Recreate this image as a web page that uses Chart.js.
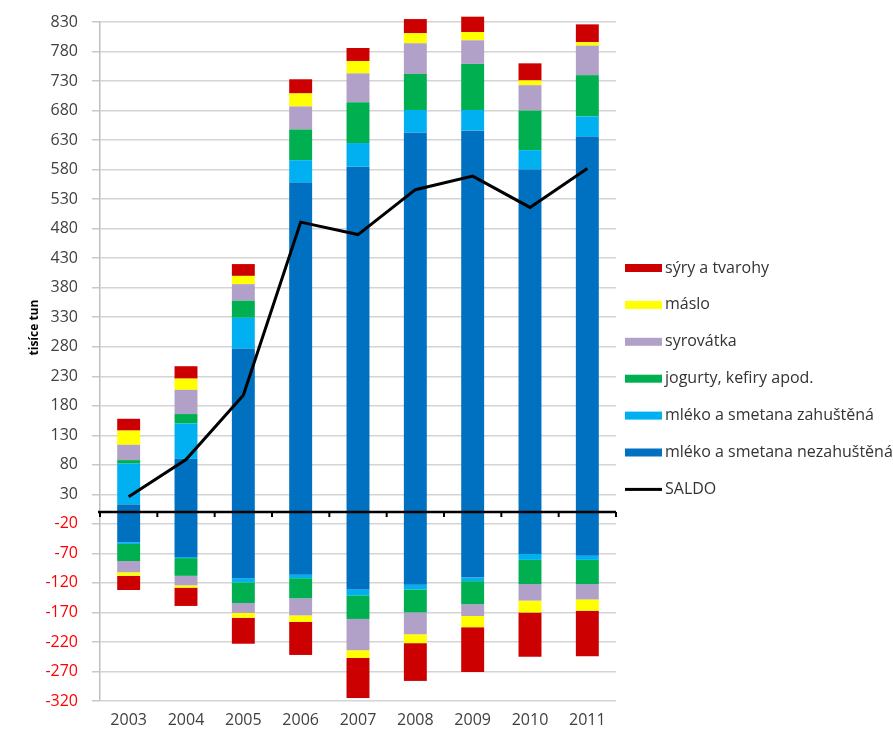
<!DOCTYPE html>
<html><head><meta charset="utf-8">
<script src="https://cdn.jsdelivr.net/npm/chart.js@4.4.1/dist/chart.umd.min.js"></script>
<style>html,body{margin:0;padding:0;background:#fff;overflow:hidden}#wrap{width:893px;height:734px;position:relative}</style>
</head><body><div id="wrap"><canvas id="c"></canvas></div>
<script>
// categories
const years = ['2003','2004','2005','2006','2007','2008','2009','2010','2011'];

// exports (positive, thousand tonnes)
const nezahusteneExp = [13, 90, 277, 558, 585, 643, 646, 580, 636];
const zahusteneExp   = [69, 60, 52, 38, 40, 38, 35, 33, 34];
const jogurtyExp     = [6, 16, 29, 52, 69, 61, 78, 67, 70];
const syrovatkaExp   = [26, 41, 28, 39, 49, 52, 40, 43, 50];
const masloExp       = [24, 19, 14, 22, 21, 17, 14, 8, 6];
const syryExp        = [20, 21, 20, 24, 22, 24, 26, 29, 30];

// imports (negative, thousand tonnes)
const nezahusteneImp = [-51, -76, -112, -106, -131, -123, -111, -71, -74];
const zahusteneImp   = [-3, -2, -7, -6, -10, -8, -6, -10, -7];
const jogurtyImp     = [-29, -30, -35, -34, -40, -39, -39, -41, -41];
const syrovatkaImp   = [-19, -16, -17, -29, -53, -37, -20, -28, -26];
const masloImp       = [-6, -4, -8, -11, -13, -15, -19, -20, -19];
const syryImp        = [-24, -31, -44, -56, -68, -64, -76, -75, -77];

// balance line
const saldo = [26, 89, 198, 491, 470, 546, 569, 516, 582];

// axis
const yMin = -320, yMax = 830, yStep = 50;
const yTitle = 'tisíce tun';

// series names & colours
const seriesNames = ['mléko a smetana nezahuštěná','mléko a smetana zahuštěná','jogurty, kefiry apod.','syrovátka','máslo','sýry a tvarohy'];
const seriesColors = ['#0070c0','#00b0f0','#00b050','#b1a0c7','#ffff00','#cc0000'];
const saldoName = 'SALDO';

const expSets = [nezahusteneExp, zahusteneExp, jogurtyExp, syrovatkaExp, masloExp, syryExp];
const impSets = [nezahusteneImp, zahusteneImp, jogurtyImp, syrovatkaImp, masloImp, syryImp];

const datasets = [];
seriesNames.forEach((name, i) => {
  datasets.push({type:'bar', label:name, data:expSets[i], backgroundColor:seriesColors[i], stack:'a', borderWidth:0, clip:false, categoryPercentage:0.8, barPercentage:0.5});
  datasets.push({type:'bar', label:name, data:impSets[i], backgroundColor:seriesColors[i], stack:'a', borderWidth:0, clip:false, categoryPercentage:0.8, barPercentage:0.5});
});
datasets.push({type:'line', label:saldoName, data:saldo, borderColor:'#000', borderWidth:3, pointRadius:0, tension:0, stack:'saldo', order:-1});

const FONT = '"Open Sans", "DejaVu Sans", sans-serif';

const zeroAxis = {
  id:'zeroAxis',
  afterDatasetsDraw(chart){
    const ctx = chart.ctx, a = chart.chartArea;
    const y = chart.scales.y.getPixelForValue(0);
    ctx.save();
    ctx.strokeStyle = '#000';
    ctx.lineWidth = 2.5;
    ctx.beginPath(); ctx.moveTo(a.left - 2, y); ctx.lineTo(a.right, y); ctx.stroke();
    const n = chart.data.labels.length;
    ctx.lineWidth = 2;
    for (let i = 0; i <= n; i++) {
      const x = a.left + i * a.width / n;
      ctx.beginPath(); ctx.moveTo(x, y); ctx.lineTo(x, y + 5); ctx.stroke();
    }
    ctx.restore();
  }
};

const sideLegend = {
  id:'sideLegend',
  afterDraw(chart){
    const ctx = chart.ctx, a = chart.chartArea;
    const items = [];
    for (let i = seriesNames.length - 1; i >= 0; i--) items.push({label:seriesNames[i], color:seriesColors[i]});
    items.push({label:saldoName, color:'#000', line:true});
    ctx.save();
    ctx.font = '16px ' + FONT;
    ctx.textBaseline = 'middle';
    ctx.textAlign = 'left';
    items.forEach((it, i) => {
      const y = a.top + 246 + i * 36.9;
      const x = a.right + 9;
      ctx.fillStyle = it.color;
      if (it.line) ctx.fillRect(x, y - 1.5, 37, 3);
      else ctx.fillRect(x, y - 4, 37, 8);
      ctx.fillStyle = '#333';
      ctx.fillText(it.label, x + 40, y);
    });
    ctx.restore();
  }
};

const yTitlePlugin = {
  id:'yTitlePlugin',
  afterDraw(chart){
    const ctx = chart.ctx, a = chart.chartArea;
    ctx.save();
    ctx.translate(35, a.top + a.height * 0.45);
    ctx.rotate(-Math.PI / 2);
    ctx.font = 'bold 12px ' + FONT;
    ctx.fillStyle = '#000';
    ctx.textAlign = 'center';
    ctx.textBaseline = 'middle';
    ctx.fillText(yTitle, 0, 0);
    ctx.restore();
  }
};

new Chart(document.getElementById('c'), {
  data: {labels: years, datasets},
  options: {
    responsive: true, maintainAspectRatio: false, animation: false, devicePixelRatio: 1,
    layout: {padding: {left: 0, right: 277, top: 13, bottom: 0}},
    plugins: {legend: {display: false}, tooltip: {enabled: false}},
    scales: {
      x: {
        stacked: true,
        grid: {display: false, drawTicks: false},
        border: {display: false},
        ticks: {padding: 10, color: '#404040', maxRotation: 0, font: {family: FONT, size: 16}},
        afterFit(s){ s.height = 33; }
      },
      y: {
        stacked: true, min: yMin, max: yMax,
        ticks: {stepSize: yStep, padding: 14, color: c => c.tick.value < 0 ? '#ff0000' : '#404040', font: {family: FONT, size: 16, lineHeight: 1}},
        grid: {color: '#d4d4d4', lineWidth: 1.5, tickLength: 8, tickColor: '#c8c8c8', drawTicks: true},
        border: {color: '#c0c0c0', width: 1.5},
        afterFit(s){ s.width = 100; }
      }
    }
  },
  plugins: [zeroAxis, sideLegend, yTitlePlugin]
});
</script>
</body></html>
